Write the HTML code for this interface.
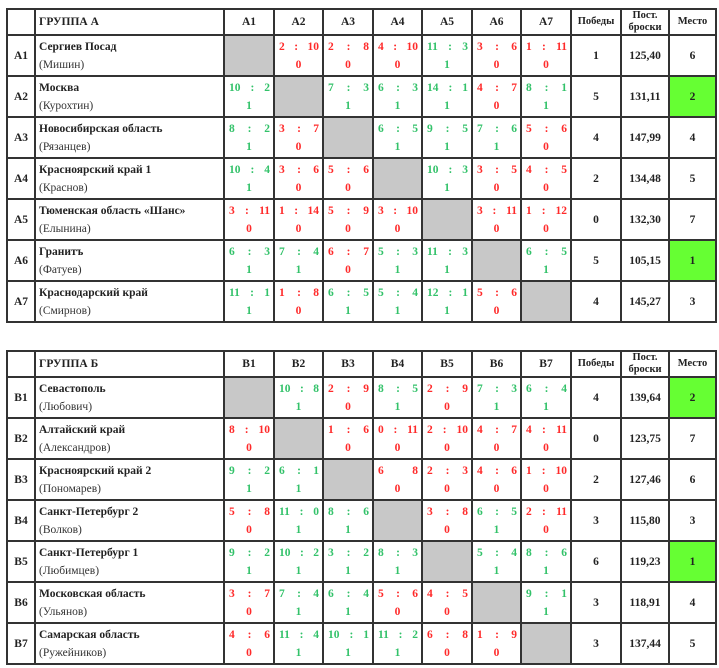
<!DOCTYPE html>
<html><head><meta charset="utf-8">
<style>
body{margin:0;background:#fff;width:719px;height:668px;overflow:hidden;font-family:"Liberation Serif","DejaVu Serif",serif;font-weight:bold;color:#222}
table{position:absolute;left:6px;border-collapse:collapse;table-layout:fixed;width:710px}
td{border:2px solid #333;padding:0;font-size:11.5px;text-align:center;vertical-align:middle;overflow:hidden}
tr.h{height:26px} tr.r{height:41px}
td.n{text-align:left;padding-left:3px;font-size:11.5px;line-height:18px}
td.n span{font-weight:normal;color:#333}
td.x{background:#c8c8c8}
td.gf{background:#66ff33}
td.s{line-height:18px;font-size:11.5px}
td.s div.l{display:flex;justify-content:space-between;padding:0 3px 0 4px}
td.g{color:#33c26a} td.rd{color:#ff2a2a}
td.hh{font-size:10.5px;line-height:12px}
</style></head><body>
<table style="top:8px">
<colgroup><col style="width:28px"><col style="width:189px"><col style="width:50px"><col style="width:49px"><col style="width:50px"><col style="width:49px"><col style="width:50px"><col style="width:49px"><col style="width:50px"><col style="width:50px"><col style="width:48px"><col style="width:47px"></colgroup>
<tr class="h"><td></td><td class="n">ГРУППА А</td><td>A1</td><td>A2</td><td>A3</td><td>A4</td><td>A5</td><td>A6</td><td>A7</td><td class="hh">Победы</td><td class="hh">Пост.<br>броски</td><td class="hh">Место</td></tr>
<tr class="r"><td>A1</td><td class="n">Сергиев Посад<br><span>(Мишин)</span></td><td class="x"></td>
<td class="s rd"><div class="l"><b>2</b><b>:</b><b>10</b></div>0</td>
<td class="s rd"><div class="l"><b>2</b><b>:</b><b>8</b></div>0</td>
<td class="s rd"><div class="l"><b>4</b><b>:</b><b>10</b></div>0</td>
<td class="s g"><div class="l"><b>11</b><b>:</b><b>3</b></div>1</td>
<td class="s rd"><div class="l"><b>3</b><b>:</b><b>6</b></div>0</td>
<td class="s rd"><div class="l"><b>1</b><b>:</b><b>11</b></div>0</td>
<td>1</td><td>125,40</td><td>6</td></tr>
<tr class="r"><td>A2</td><td class="n">Москва<br><span>(Курохтин)</span></td>
<td class="s g"><div class="l"><b>10</b><b>:</b><b>2</b></div>1</td><td class="x"></td>
<td class="s g"><div class="l"><b>7</b><b>:</b><b>3</b></div>1</td>
<td class="s g"><div class="l"><b>6</b><b>:</b><b>3</b></div>1</td>
<td class="s g"><div class="l"><b>14</b><b>:</b><b>1</b></div>1</td>
<td class="s rd"><div class="l"><b>4</b><b>:</b><b>7</b></div>0</td>
<td class="s g"><div class="l"><b>8</b><b>:</b><b>1</b></div>1</td>
<td>5</td><td>131,11</td><td class="gf">2</td></tr>
<tr class="r"><td>A3</td><td class="n">Новосибирская область<br><span>(Рязанцев)</span></td>
<td class="s g"><div class="l"><b>8</b><b>:</b><b>2</b></div>1</td>
<td class="s rd"><div class="l"><b>3</b><b>:</b><b>7</b></div>0</td><td class="x"></td>
<td class="s g"><div class="l"><b>6</b><b>:</b><b>5</b></div>1</td>
<td class="s g"><div class="l"><b>9</b><b>:</b><b>5</b></div>1</td>
<td class="s g"><div class="l"><b>7</b><b>:</b><b>6</b></div>1</td>
<td class="s rd"><div class="l"><b>5</b><b>:</b><b>6</b></div>0</td>
<td>4</td><td>147,99</td><td>4</td></tr>
<tr class="r"><td>A4</td><td class="n">Красноярский край 1<br><span>(Краснов)</span></td>
<td class="s g"><div class="l"><b>10</b><b>:</b><b>4</b></div>1</td>
<td class="s rd"><div class="l"><b>3</b><b>:</b><b>6</b></div>0</td>
<td class="s rd"><div class="l"><b>5</b><b>:</b><b>6</b></div>0</td><td class="x"></td>
<td class="s g"><div class="l"><b>10</b><b>:</b><b>3</b></div>1</td>
<td class="s rd"><div class="l"><b>3</b><b>:</b><b>5</b></div>0</td>
<td class="s rd"><div class="l"><b>4</b><b>:</b><b>5</b></div>0</td>
<td>2</td><td>134,48</td><td>5</td></tr>
<tr class="r"><td>A5</td><td class="n">Тюменская область «Шанс»<br><span>(Елынина)</span></td>
<td class="s rd"><div class="l"><b>3</b><b>:</b><b>11</b></div>0</td>
<td class="s rd"><div class="l"><b>1</b><b>:</b><b>14</b></div>0</td>
<td class="s rd"><div class="l"><b>5</b><b>:</b><b>9</b></div>0</td>
<td class="s rd"><div class="l"><b>3</b><b>:</b><b>10</b></div>0</td><td class="x"></td>
<td class="s rd"><div class="l"><b>3</b><b>:</b><b>11</b></div>0</td>
<td class="s rd"><div class="l"><b>1</b><b>:</b><b>12</b></div>0</td>
<td>0</td><td>132,30</td><td>7</td></tr>
<tr class="r"><td>A6</td><td class="n">Гранитъ<br><span>(Фатуев)</span></td>
<td class="s g"><div class="l"><b>6</b><b>:</b><b>3</b></div>1</td>
<td class="s g"><div class="l"><b>7</b><b>:</b><b>4</b></div>1</td>
<td class="s rd"><div class="l"><b>6</b><b>:</b><b>7</b></div>0</td>
<td class="s g"><div class="l"><b>5</b><b>:</b><b>3</b></div>1</td>
<td class="s g"><div class="l"><b>11</b><b>:</b><b>3</b></div>1</td><td class="x"></td>
<td class="s g"><div class="l"><b>6</b><b>:</b><b>5</b></div>1</td>
<td>5</td><td>105,15</td><td class="gf">1</td></tr>
<tr class="r"><td>A7</td><td class="n">Краснодарский край<br><span>(Смирнов)</span></td>
<td class="s g"><div class="l"><b>11</b><b>:</b><b>1</b></div>1</td>
<td class="s rd"><div class="l"><b>1</b><b>:</b><b>8</b></div>0</td>
<td class="s g"><div class="l"><b>6</b><b>:</b><b>5</b></div>1</td>
<td class="s g"><div class="l"><b>5</b><b>:</b><b>4</b></div>1</td>
<td class="s g"><div class="l"><b>12</b><b>:</b><b>1</b></div>1</td>
<td class="s rd"><div class="l"><b>5</b><b>:</b><b>6</b></div>0</td><td class="x"></td>
<td>4</td><td>145,27</td><td>3</td></tr>
</table>

<table style="top:350px">
<colgroup><col style="width:28px"><col style="width:189px"><col style="width:50px"><col style="width:49px"><col style="width:50px"><col style="width:49px"><col style="width:50px"><col style="width:49px"><col style="width:50px"><col style="width:50px"><col style="width:48px"><col style="width:47px"></colgroup>
<tr class="h"><td></td><td class="n">ГРУППА Б</td><td>B1</td><td>B2</td><td>B3</td><td>B4</td><td>B5</td><td>B6</td><td>B7</td><td class="hh">Победы</td><td class="hh">Пост.<br>броски</td><td class="hh">Место</td></tr>
<tr class="r"><td>B1</td><td class="n">Севастополь<br><span>(Любович)</span></td><td class="x"></td>
<td class="s g"><div class="l"><b>10</b><b>:</b><b>8</b></div>1</td>
<td class="s rd"><div class="l"><b>2</b><b>:</b><b>9</b></div>0</td>
<td class="s g"><div class="l"><b>8</b><b>:</b><b>5</b></div>1</td>
<td class="s rd"><div class="l"><b>2</b><b>:</b><b>9</b></div>0</td>
<td class="s g"><div class="l"><b>7</b><b>:</b><b>3</b></div>1</td>
<td class="s g"><div class="l"><b>6</b><b>:</b><b>4</b></div>1</td>
<td>4</td><td>139,64</td><td class="gf">2</td></tr>
<tr class="r"><td>B2</td><td class="n">Алтайский край<br><span>(Александров)</span></td>
<td class="s rd"><div class="l"><b>8</b><b>:</b><b>10</b></div>0</td><td class="x"></td>
<td class="s rd"><div class="l"><b>1</b><b>:</b><b>6</b></div>0</td>
<td class="s rd"><div class="l"><b>0</b><b>:</b><b>11</b></div>0</td>
<td class="s rd"><div class="l"><b>2</b><b>:</b><b>10</b></div>0</td>
<td class="s rd"><div class="l"><b>4</b><b>:</b><b>7</b></div>0</td>
<td class="s rd"><div class="l"><b>4</b><b>:</b><b>11</b></div>0</td>
<td>0</td><td>123,75</td><td>7</td></tr>
<tr class="r"><td>B3</td><td class="n">Красноярский край 2<br><span>(Пономарев)</span></td>
<td class="s g"><div class="l"><b>9</b><b>:</b><b>2</b></div>1</td>
<td class="s g"><div class="l"><b>6</b><b>:</b><b>1</b></div>1</td><td class="x"></td>
<td class="s rd"><div class="l"><b>6</b><b></b><b>8</b></div>0</td>
<td class="s rd"><div class="l"><b>2</b><b>:</b><b>3</b></div>0</td>
<td class="s rd"><div class="l"><b>4</b><b>:</b><b>6</b></div>0</td>
<td class="s rd"><div class="l"><b>1</b><b>:</b><b>10</b></div>0</td>
<td>2</td><td>127,46</td><td>6</td></tr>
<tr class="r"><td>B4</td><td class="n">Санкт-Петербург 2<br><span>(Волков)</span></td>
<td class="s rd"><div class="l"><b>5</b><b>:</b><b>8</b></div>0</td>
<td class="s g"><div class="l"><b>11</b><b>:</b><b>0</b></div>1</td>
<td class="s g"><div class="l"><b>8</b><b>:</b><b>6</b></div>1</td><td class="x"></td>
<td class="s rd"><div class="l"><b>3</b><b>:</b><b>8</b></div>0</td>
<td class="s g"><div class="l"><b>6</b><b>:</b><b>5</b></div>1</td>
<td class="s rd"><div class="l"><b>2</b><b>:</b><b>11</b></div>0</td>
<td>3</td><td>115,80</td><td>3</td></tr>
<tr class="r"><td>B5</td><td class="n">Санкт-Петербург 1<br><span>(Любимцев)</span></td>
<td class="s g"><div class="l"><b>9</b><b>:</b><b>2</b></div>1</td>
<td class="s g"><div class="l"><b>10</b><b>:</b><b>2</b></div>1</td>
<td class="s g"><div class="l"><b>3</b><b>:</b><b>2</b></div>1</td>
<td class="s g"><div class="l"><b>8</b><b>:</b><b>3</b></div>1</td><td class="x"></td>
<td class="s g"><div class="l"><b>5</b><b>:</b><b>4</b></div>1</td>
<td class="s g"><div class="l"><b>8</b><b>:</b><b>6</b></div>1</td>
<td>6</td><td>119,23</td><td class="gf">1</td></tr>
<tr class="r"><td>B6</td><td class="n">Московская область<br><span>(Ульянов)</span></td>
<td class="s rd"><div class="l"><b>3</b><b>:</b><b>7</b></div>0</td>
<td class="s g"><div class="l"><b>7</b><b>:</b><b>4</b></div>1</td>
<td class="s g"><div class="l"><b>6</b><b>:</b><b>4</b></div>1</td>
<td class="s rd"><div class="l"><b>5</b><b>:</b><b>6</b></div>0</td>
<td class="s rd"><div class="l"><b>4</b><b>:</b><b>5</b></div>0</td><td class="x"></td>
<td class="s g"><div class="l"><b>9</b><b>:</b><b>1</b></div>1</td>
<td>3</td><td>118,91</td><td>4</td></tr>
<tr class="r"><td>B7</td><td class="n">Самарская область<br><span>(Ружейников)</span></td>
<td class="s rd"><div class="l"><b>4</b><b>:</b><b>6</b></div>0</td>
<td class="s g"><div class="l"><b>11</b><b>:</b><b>4</b></div>1</td>
<td class="s g"><div class="l"><b>10</b><b>:</b><b>1</b></div>1</td>
<td class="s g"><div class="l"><b>11</b><b>:</b><b>2</b></div>1</td>
<td class="s rd"><div class="l"><b>6</b><b>:</b><b>8</b></div>0</td>
<td class="s rd"><div class="l"><b>1</b><b>:</b><b>9</b></div>0</td><td class="x"></td>
<td>3</td><td>137,44</td><td>5</td></tr>
</table>
</body></html>
